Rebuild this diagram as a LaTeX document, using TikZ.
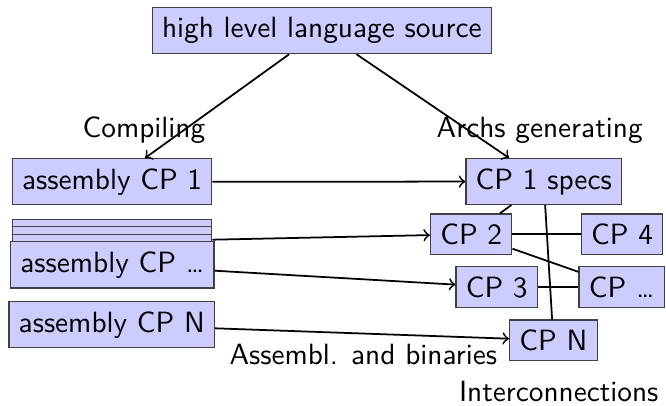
\documentclass[tikz,border=0pt]{standalone}
\usepackage{tikz}
\usetikzlibrary{arrows,calc,positioning}

\begin{document}
\begin{tikzpicture}[
    font=\sffamily,
    unit/.style  = {draw=black!75, fill=blue!20, inner sep=.3333em},
    ghost/.style = {unit, minimum width=2.39cm, minimum height=0.54cm},
    flow/.style  = {semithick,->},
    wire/.style  = {semithick}
  ]

  \useasboundingbox (0,0) rectangle (7.99,4.87);

  \coordinate (origin) at (0,0);

  \node[unit] (src) at ($(origin)+(3.861,4.502)$) {high level language source};

  \node[unit] (asm1) at ($(origin)+(1.345,2.689)$) {assembly CP 1};
  \node[ghost] (asmA) at ($(origin)+(1.345,1.969)$) {};
  \node[ghost] (asmB) at ($(origin)+(1.345,1.880)$) {};
  \node[ghost] (asmC) at ($(origin)+(1.345,1.789)$) {};
  \node[unit] (asmdots) at ($(origin)+(1.347,1.693)$) {assembly CP \dots};
  \node[unit] (asmN) at ($(origin)+(1.341,0.975)$) {assembly CP N};

  \node[unit] (specs)  at ($(origin)+(6.523,2.692)$) {CP 1 specs};
  \node[unit] (cp2)    at ($(origin)+(5.653,2.060)$) {CP 2};
  \node[unit] (cp4)    at ($(origin)+(7.464,2.060)$) {CP 4};
  \node[unit] (cp3)    at ($(origin)+(5.959,1.427)$) {CP 3};
  \node[unit] (cpdots) at ($(origin)+(7.457,1.427)$) {CP \dots};
  \node[unit] (cpN)    at ($(origin)+(6.639,0.788)$) {CP N};

  \node (compiling) at ($(origin)+(1.727,3.309)$) {Compiling};
  \node (archs)     at ($(origin)+(6.475,3.309)$) {Archs generating};
  \node (binaries)  at ($(origin)+(4.359,0.612)$) {Assembl. and binaries};
  \node (inter)     at ($(origin)+(6.703,0.170)$) {Interconnections};

  \draw[flow] (src) -- (asm1);
  \draw[flow] (src) -- (specs);

  \draw[flow] (asm1) -- (specs);
  \draw[flow] (asmA) -- (cp2);
  \draw[flow] (asmdots) -- (cp3);
  \draw[flow] (asmN) -- (cpN);

  \draw[wire] (specs) -- (cp2);
  \draw[wire] (specs) -- (cpN);
  \draw[wire] (cp2) -- (cp4);
  \draw[wire] (cp2) -- (cpdots);
  \draw[wire] (cp3) -- (cpdots);

\end{tikzpicture}
\end{document}
